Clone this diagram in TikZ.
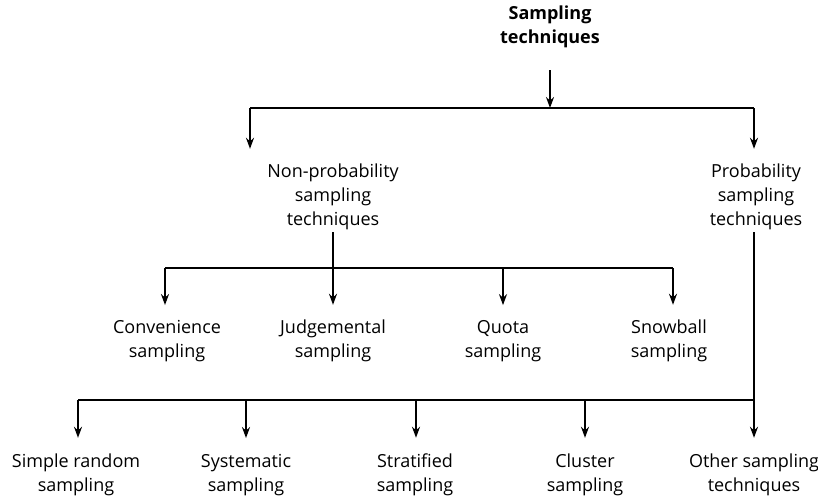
\documentclass[tikz,border=0pt]{standalone}
\usepackage{fontspec}
\setmainfont{Open Sans}
\usetikzlibrary{arrows.meta}
\begin{document}
\begin{tikzpicture}[x=1pt,y=-1pt,
  lab/.style={align=center,font=\fontsize{18}{24}\selectfont,inner sep=2pt},
  ln/.style={line width=1.8pt},
  arr/.style={ln,-{Stealth[length=11pt,width=8pt]}},
  arrA/.style={arr,shorten >=13pt},
  arrB/.style={arr,shorten >=14pt}]
\useasboundingbox (0,0) rectangle (818,499);
% nodes
\node[lab,font=\fontsize{18}{24}\selectfont\bfseries] (root) at (550,27) {Sampling\\techniques};
\node[lab] (np) at (333,197) {Non-probability\\sampling\\techniques};
\node[lab] (p) at (756,197) {Probability\\sampling\\techniques};
\node[lab] (conv) at (167,341) {Convenience\\sampling};
\node[lab] (judg) at (333,341) {Judgemental\\sampling};
\node[lab] (quota) at (503,341) {Quota\\sampling};
\node[lab] (snow) at (669,341) {Snowball\\sampling};
\node[lab] (srs) at (76,475) {Simple random\\sampling};
\node[lab] (sys) at (246,475) {Systematic\\sampling};
\node[lab] (strat) at (415,475) {Stratified\\sampling};
\node[lab] (clus) at (585,475) {Cluster\\sampling};
\node[lab] (other) at (754,475) {Other sampling\\techniques};
% junction coordinates
\coordinate (j1) at (550,108);
\coordinate (bL) at (250,108);
\coordinate (bR) at (754,108);
\coordinate (h2L) at (165,268);
\coordinate (h2J) at (333,268);
\coordinate (h2Q) at (503,268);
\coordinate (h2R) at (673,268);
\coordinate (h3L) at (78,400);
\coordinate (h3S) at (246,400);
\coordinate (h3T) at (416,400);
\coordinate (h3C) at (585,400);
\coordinate (h3R) at (754,400);
% level 1
\draw[arr,shorten <=20pt] (root.south) -- (j1);
\draw[ln] (bL) -- (bR);
\draw[arrA] (bL) -- (bL |- np.north);
\draw[arrA] (bR) -- (bR |- p.north);
% level 2
\draw[ln] (np.south) -- (h2J);
\draw[ln] (h2L) -- (h2R);
\draw[arrA] (h2L) -- (h2L |- conv.north);
\draw[arrA] (h2J) -- (judg.north);
\draw[arrA] (h2Q) -- (quota.north);
\draw[arrA] (h2R) -- (h2R |- snow.north);
% level 3
\draw[ln] (h3L) -- (h3R);
\draw[arrB] (bR |- p.south) -- (other.north);
\draw[arrB] (h3L) -- (h3L |- srs.north);
\draw[arrB] (h3S) -- (sys.north);
\draw[arrB] (h3T) -- (h3T |- strat.north);
\draw[arrB] (h3C) -- (clus.north);
\end{tikzpicture}
\end{document}
